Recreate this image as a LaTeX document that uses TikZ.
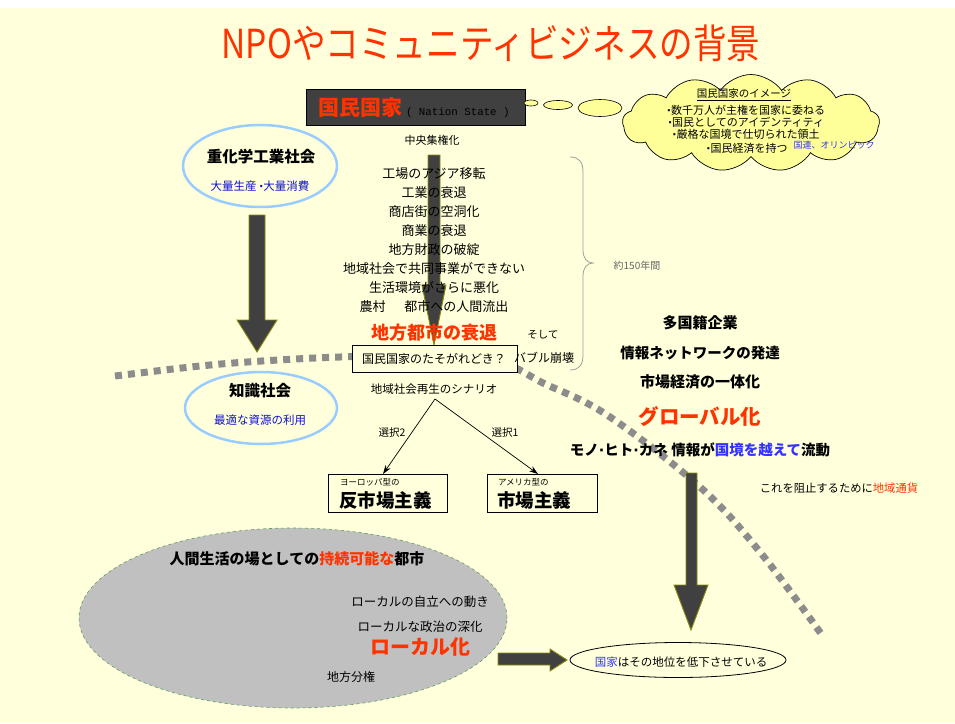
\documentclass[tikz,border=0pt]{standalone}
\usepackage{fontspec}
\setmainfont{Noto Sans CJK JP}
\newfontfamily\monof{Liberation Mono}
\newfontfamily\dejav{DejaVu Sans}
\usetikzlibrary{shapes.symbols,shapes.geometric,arrows.meta}
\definecolor{bgy}{HTML}{FFFFDC}
\definecolor{tred}{HTML}{FF3300}
\definecolor{boxgray}{HTML}{404040}
\definecolor{arrowgray}{HTML}{404040}
\definecolor{oliveedge}{HTML}{8A8A10}
\definecolor{cloudy}{HTML}{FFFF99}
\definecolor{lblue}{HTML}{99CCFF}
\definecolor{tblue}{HTML}{3333FF}
\definecolor{dblue}{HTML}{1111CC}
\definecolor{dotgray}{HTML}{8C8C8C}
\definecolor{bracegray}{HTML}{A0A0A0}
\definecolor{ellgray}{HTML}{C0C0C0}
\definecolor{dgreen}{HTML}{5E9E5E}
\newcommand{\fs}[1]{\fontsize{#1}{#1}\selectfont}
\newcommand{\md}{{\dejav\bfseries ·}}
\begin{document}
\begin{tikzpicture}[x=1pt,y=-1pt,
  every node/.style={inner sep=0pt,outer sep=0pt},
  bigarrow/.style={fill=arrowgray,draw=oliveedge,line width=0.9pt},
  txt/.style={font=\fs{13}},
  btxt/.style={font=\fs{15}\bfseries},
  rtxt/.style={text=tred,font=\fs{18}\bfseries},
  plainbox/.style={draw=black,fill=bgy,line width=0.8pt,anchor=north west},
  blueell/.style={ellipse,draw=lblue,line width=2.5pt,fill=bgy},
  bubble/.style={ellipse,draw=black,fill=cloudy,line width=0.6pt},
  dotline/.style={draw=dotgray,line width=7pt,dash pattern=on 7pt off 6pt},
  thinarrow/.style={draw=black,line width=0.7pt,-{Stealth[length=9pt,width=6pt]}}]
\useasboundingbox (0,0) rectangle (955,723);
\fill[white] (0,0) rectangle (955,723);
\fill[bgy] (0,8) rectangle (955,723);

% title
\node (title) at (491,43) {\color{tred}\scalebox{0.84}[1]{\fs{40}NPOやコミュニティビジネスの背景}};

% dotted boundary curve
\draw[dotline] plot[smooth,tension=0.6] coordinates {(115,376) (200,366) (262,361) (340,357) (420,356) (500,363) (543,383) (607,415) (700,487) (760,552) (822,635)};

% nation state box
\node[draw=black,fill=boxgray,minimum width=219,minimum height=36,anchor=north west,line width=0.6pt] (ns) at (306,89) {};
\node[anchor=west,text=tred,font=\fs{21}\bfseries] (nsjp) at (318,108) {国民国家};
\node[anchor=west,font=\monof\fs{10.8}] (nsen) at (406,113) {( Nation State )};

% thought bubbles and cloud
\node[bubble,minimum width=14,minimum height=6] (b1) at (531,103) {};
\node[bubble,minimum width=29,minimum height=9] (b2) at (558,105) {};
\node[bubble,minimum width=44,minimum height=17] (b3) at (600,108) {};
\node[cloud,cloud puffs=13,cloud puff arc=110,cloud ignores aspect,draw=black,fill=cloudy,line width=0.7pt,minimum width=257,minimum height=97] (cloud) at (751,123) {};
\node[font=\fs{10.5}] (c0) at (744,95) {\underline{国民国家のイメージ}};
\node[font=\fs{11}] (c1) at (746,110) {\md 数千万人が主権を国家に委ねる};
\node[font=\fs{11}] (c2) at (746,122) {\md 国民としてのアイデンティティ};
\node[font=\fs{11}] (c3) at (746,134) {\md 厳格な国境で仕切られた領土};
\node[font=\fs{11}] (c4) at (747,148) {\md 国民経済を持つ};
\node[font=\fs{9},text=tblue] (c5) at (834,145) {国連、オリンピック};

\node[font=\fs{11}] (central) at (432,140) {中央集権化};

% left ellipses
\node[blueell,minimum width=154,minimum height=82] (heavy) at (260,166) {};
\node[btxt,font=\fs{15.5}\bfseries] (heavyt) at (261,157) {重化学工業社会};
\node[font=\fs{11.5},text=dblue] (heavys) at (260,186) {大量生産 \md 大量消費};
\node[blueell,minimum width=152,minimum height=72] (know) at (261,408) {};
\node[btxt,font=\fs{15.5}\bfseries] (knowt) at (260,391) {知識社会};
\node[font=\fs{11.5},text=dblue] (knows) at (260,420) {最適な資源の利用};

% left arrow
\draw[bigarrow] (249,215) -- (265,215) -- (265,320) -- (277,320) -- (257,352) -- (237,320) -- (249,320) -- cycle;

% center arrow
\draw[bigarrow] (428,155) -- (440,155) -- (440,285) -- (446,285) -- (434,345) -- (422,285) -- (428,285) -- cycle;

% center list
\node[txt] (l1) at (434,174) {工場のアジア移転};
\node[txt] (l2) at (434,193) {工業の衰退};
\node[txt] (l3) at (434,212) {商店街の空洞化};
\node[txt] (l4) at (434,231) {商業の衰退};
\node[txt] (l5) at (434,250) {地方財政の破綻};
\node[txt] (l6) at (434,269) {地域社会で共同事業ができない};
\node[txt] (l7) at (434,288) {生活環境がさらに悪化};
\node[txt] (l8) at (434,307) {農村\hspace{19pt}都市への人間流出};
\node[rtxt] (decline) at (434,333) {地方都市の衰退};

% brace
\draw[bracegray,line width=0.8pt] (570,157) .. controls (579,157) and (583,162) .. (583,172) -- (583,250) .. controls (583,258) and (587,263) .. (593,263) .. controls (587,263) and (583,268) .. (583,276) -- (583,355) .. controls (583,365) and (579,370) .. (570,370);
\node[font=\fs{10},text=black!60] (years) at (637,266) {約150年間};

% twilight box
\node[plainbox,minimum width=165,minimum height=27] (twilight) at (352,345) {};
\node[font=\fs{12}] (twt) at (434,359) {国民国家のたそがれどき？};
\node[font=\fs{10.5}] (soshite) at (543,335) {そして};
\node[font=\fs{12}] (bubbleburst) at (544,358) {バブル崩壊};

% scenario
\node[font=\fs{11.5}] (scen) at (434,389) {地域社会再生のシナリオ};
\coordinate (split) at (435,399);
\node[plainbox,minimum width=119,minimum height=38] (anti) at (328,474) {};
\node[plainbox,minimum width=110,minimum height=38] (market) at (487,474) {};
\coordinate (antitop) at (383,474);
\coordinate (markettop) at (538,474);
\draw[thinarrow] (split) -- (antitop);
\draw[thinarrow] (split) -- (markettop);
\node[font=\fs{10.5}] (ch2) at (392,433) {選択2};
\node[font=\fs{10.5}] (ch1) at (505,433) {選択1};
\node[anchor=west,font=\fs{8.5}] (eu) at (340,482) {ヨーロッパ型の};
\node[anchor=west,font=\fs{18.5}\bfseries] (antit) at (339,500) {反市場主義};
\node[anchor=west,font=\fs{8.5}] (us) at (498,482) {アメリカ型の};
\node[anchor=west,font=\fs{18.5}\bfseries] (markett) at (497,500) {市場主義};

% right column
\node[btxt] (r1) at (700,323) {多国籍企業};
\node[btxt,font=\fs{14.5}\bfseries] (r2) at (700,353) {情報ネットワークの発達};
\node[btxt] (r3) at (700,382) {市場経済の一体化};
\node[rtxt,font=\fs{20.5}\bfseries] (glob) at (700,417) {グローバル化};
\node[font=\fs{14.5}\bfseries] (flow) at (700,450) {モノ\md ヒト\md カネ 情報が\textcolor{tblue}{国境を越えて}流動};
\node[font=\fs{11.3}] (block) at (839,488) {これを阻止するために\textcolor{tred}{地域通貨}};

% right arrow
\draw[bigarrow] (686,473) -- (697,473) -- (697,585) -- (708,585) -- (691,630) -- (674,585) -- (686,585) -- cycle;

% local ellipse
\node[ellipse,fill=ellgray,draw=dgreen,dashed,line width=0.6pt,minimum width=428,minimum height=180] (local) at (293,618) {};
\node[font=\fs{15}\bfseries] (sust) at (297,559) {人間生活の場としての\textcolor{tred}{持続可能な}都市};
\node[font=\fs{12.5}] (lo1) at (420,602) {ローカルの自立への動き};
\node[font=\fs{12.5}] (lo2) at (420,627) {ローカルな政治の深化};
\node[rtxt,font=\fs{20}\bfseries] (localize) at (420,647) {ローカル化};
\node[font=\fs{12}] (decen) at (351,677) {地方分権};

% small arrow to state
\draw[bigarrow] (498,653) -- (550,653) -- (550,649) -- (567,660) -- (550,671) -- (550,665) -- (498,665) -- cycle;
\node[ellipse,draw=black,fill=bgy,line width=0.8pt,minimum width=216,minimum height=35] (state) at (678,660) {};
\node[font=\fs{11.5}] (statet) at (681,662) {\textcolor{tblue}{国家}はその地位を低下させている};
\end{tikzpicture}
\end{document}
